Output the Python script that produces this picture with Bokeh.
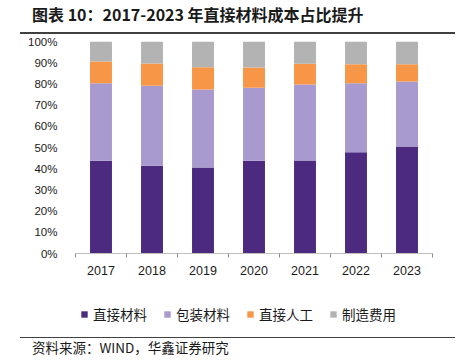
from bokeh.plotting import figure
from bokeh.models import (ColumnDataSource, FixedTicker, Legend, LegendItem, Div, Range1d)
from bokeh.layouts import column
from bokeh.embed import file_html
from bokeh.resources import INLINE

years = ["2017", "2018", "2019", "2020", "2021", "2022", "2023"]
series_names = ["直接材料", "包装材料", "直接人工", "制造费用"]
direct_material = [43.7, 41.4, 40.6, 43.7, 43.9, 47.8, 50.5]
packaging_material = [36.6, 37.7, 36.8, 34.5, 35.8, 32.5, 30.6]
direct_labor = [10.3, 10.5, 10.5, 9.5, 9.8, 9.0, 8.2]
manufacturing = [9.4, 10.4, 12.1, 12.3, 10.5, 10.7, 10.7]
y_ticks = [0, 10, 20, 30, 40, 50, 60, 70, 80, 90, 100]

colors = ["#4B2A7F", "#A89ACF", "#F79646", "#B3B3B3"]

xs = [i + 0.5 for i in range(len(years))]
data = dict(x=xs)
for name, vals in zip(series_names, [direct_material, packaging_material, direct_labor, manufacturing]):
    data[name] = vals
src = ColumnDataSource(data)

p = figure(width=464, height=255, output_backend="svg", toolbar_location=None,
           x_range=Range1d(0, len(years)), y_range=Range1d(0, 100),
           min_border_left=75, min_border_right=32, min_border_top=6, min_border_bottom=37)
p.outline_line_color = None
p.xgrid.visible = False
p.ygrid.visible = False
p.background_fill_color = "white"
p.border_fill_alpha = 0

renderers = p.vbar_stack(series_names, x="x", width=0.43, color=colors, source=src, line_color=None)

# y axis
p.yaxis.ticker = FixedTicker(ticks=y_ticks)
p.yaxis.major_label_overrides = {t: f"{t}%" for t in y_ticks}
p.yaxis.axis_line_color = None
p.yaxis.major_tick_line_color = None
p.yaxis.minor_tick_line_color = None
p.yaxis.major_label_standoff = 12
p.yaxis.major_label_text_font = "Liberation Sans"
p.yaxis.major_label_text_font_size = "11.5px"
p.yaxis.major_label_text_color = "#1a1a1a"

# x axis
p.xaxis.ticker = FixedTicker(ticks=xs, minor_ticks=list(range(len(years) + 1)))
p.xaxis.major_label_overrides = {x: y for x, y in zip(xs, years)}
p.xaxis.axis_line_color = "#BFBFBF"
p.xaxis.axis_line_width = 1
p.xaxis.major_tick_line_color = None
p.xaxis.major_tick_out = 0
p.xaxis.major_tick_in = 0
p.xaxis.minor_tick_line_color = "#8C8C8C"
p.xaxis.minor_tick_out = 4
p.xaxis.minor_tick_in = 0
p.xaxis.major_label_standoff = 8
p.xaxis.major_label_text_font = "Liberation Sans"
p.xaxis.major_label_text_font_size = "12.5px"
p.xaxis.major_label_text_color = "#1a1a1a"

# legend figure (legend swatches come from off-screen proxy glyphs)
lp = figure(width=464, height=47, output_backend="svg", toolbar_location=None,
            x_range=Range1d(0, 1), y_range=Range1d(0, 1),
            x_axis_type=None, y_axis_type=None,
            min_border_left=75, min_border_right=32, min_border_top=0, min_border_bottom=0)
lp.outline_line_color = None
lp.xgrid.visible = False
lp.ygrid.visible = False
lp.border_fill_alpha = 0
proxy = ColumnDataSource(dict(left=[-3], right=[-2], bottom=[-3], top=[-2]))
dummy = [lp.quad(left="left", right="right", bottom="bottom", top="top", source=proxy,
                 fill_color=c, line_color=None) for c in colors]
legend = Legend(items=[LegendItem(label=n, renderers=[r]) for n, r in zip(series_names, dummy)],
                orientation="horizontal", location=(5, 13),
                glyph_width=8, glyph_height=8, label_height=14, label_standoff=5, spacing=16,
                padding=2, margin=0, border_line_color=None, background_fill_alpha=0,
                label_text_font="Noto Sans CJK SC", label_text_font_size="13.5px",
                label_text_color="#1a1a1a")
lp.add_layout(legend, "center")

title = Div(width=464, height=35, margin=(0, 0, 0, 0), text=(
    '<div style="position:relative;width:464px;height:35px;">'
    '<div style="position:absolute;left:32px;top:5px;white-space:nowrap;font-family:\'Noto Sans CJK SC\';'
    'font-weight:bold;font-size:16px;line-height:18px;color:#1a1a1a;">图表 10：2017-2023 年直接材料成本占比提升</div>'
    '<div style="position:absolute;left:20px;top:32px;width:435px;height:1.5px;background:#404040;"></div>'
    '</div>'))

source_div = Div(width=464, height=24, margin=(0, 0, 0, 0), text=(
    '<div style="position:relative;width:464px;height:24px;">'
    '<div style="position:absolute;left:20px;top:0px;width:435px;height:1px;background:#404040;"></div>'
    '<div style="position:absolute;left:32px;top:3px;white-space:nowrap;font-family:\'Noto Sans CJK SC\';'
    'font-size:13.5px;line-height:14px;color:#1a1a1a;">资料来源：WIND，华鑫证券研究</div>'
    '</div>'))

layout = column(title, p, lp, source_div, spacing=0)
open("out.html", "w").write(file_html(layout, INLINE))
